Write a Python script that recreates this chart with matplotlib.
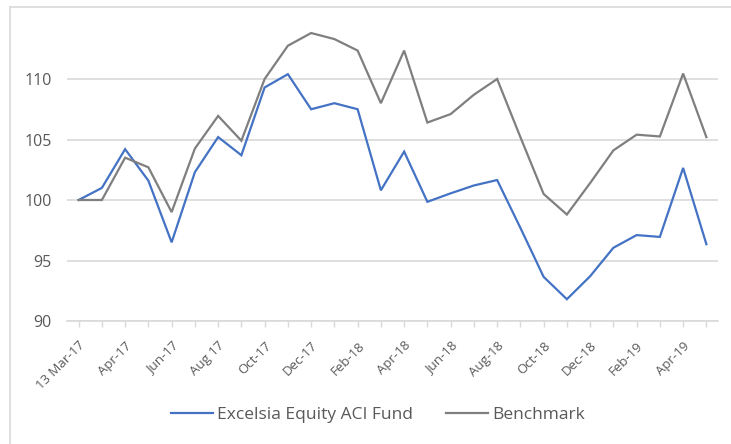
import matplotlib
matplotlib.use("Agg")
import matplotlib.pyplot as plt
from matplotlib.lines import Line2D

categories = ["13 Mar-17", "Mar-17", "Apr-17", "May-17", "Jun-17", "Jul-17", "Aug 17",
              "Sep-17", "Oct-17", "Nov-17", "Dec-17", "Jan-18", "Feb-18", "Mar-18",
              "Apr-18", "May-18", "Jun-18", "Jul-18", "Aug-18", "Sep-18", "Oct-18",
              "Nov-18", "Dec-18", "Jan-19", "Feb-19", "Mar-19", "Apr-19", "May-19"]
fund = [100.0, 101.0, 104.2, 101.6, 96.5, 102.3, 105.2, 103.7, 109.3, 110.4,
        107.5, 108.0, 107.5, 100.8, 104.0, 99.85, 100.55, 101.2, 101.65, 97.7,
        93.65, 91.8, 93.7, 96.05, 97.1, 96.95, 102.65, 96.35]
benchmark = [100.0, 100.0, 103.5, 102.7, 99.0, 104.25, 106.95, 104.9, 110.0, 112.75,
             113.8, 113.3, 112.35, 108.0, 112.35, 106.4, 107.1, 108.7, 110.0, 105.2,
             100.5, 98.8, 101.4, 104.1, 105.4, 105.25, 110.45, 105.2]
series_names = ["Excelsia Equity ACI Fund", "Benchmark"]
yticks = [90, 95, 100, 105, 110]

FONT = ["Open Sans", "DejaVu Sans"]
plt.rcParams["font.family"] = FONT
TXT = "#595959"
GRID = "#d9d9d9"
BLUE = "#4472c4"
GRAY = "#7f7f7f"

fig = plt.figure(figsize=(7.31, 4.44), dpi=100)
ax = fig.add_axes([67/731, 1 - 321/444, (718-67)/731, (321-18.5)/444])

x = list(range(len(categories)))
ax.plot(x, fund, color=BLUE, lw=1.6, label=series_names[0], solid_joinstyle="miter")
ax.plot(x, benchmark, color=GRAY, lw=1.6, label=series_names[1], solid_joinstyle="miter")

ax.set_xlim(-0.5, len(categories) - 0.5)
ax.set_ylim(90, 115)
ax.set_yticks(yticks)
ax.set_yticklabels([str(v) for v in yticks], color=TXT, fontsize=11.5)
ax.yaxis.grid(True, color=GRID, lw=1.2)
ax.set_axisbelow(True)
ax.tick_params(axis="y", length=0, pad=11)

ax.set_xticks(x)
labels = [c if i % 2 == 0 else "" for i, c in enumerate(categories)]
ax.set_xticklabels(labels, rotation=45, ha="right", rotation_mode="anchor",
                   color=TXT, fontsize=9.5)
ax.tick_params(axis="x", length=4, color=GRID, width=1, pad=9)

for s in ["top", "right", "left"]:
    ax.spines[s].set_visible(False)
ax.spines["bottom"].set_color(GRID)
ax.spines["bottom"].set_linewidth(1.2)

handles = [Line2D([], [], color=BLUE, lw=1.6), Line2D([], [], color=GRAY, lw=1.6)]
fig.legend(handles, series_names, loc="center", bbox_to_anchor=(378/731, 1 - 415/444),
           ncol=2, frameon=False, fontsize=12.5, labelcolor=TXT, handlelength=2.4,
           handletextpad=0.25, columnspacing=1.9)

# chart frame
fig.add_artist(Line2D([10/731, 10/731], [0, 1 - 7.3/444], transform=fig.transFigure,
                      color=GRID, lw=1.2))
fig.add_artist(Line2D([10/731, 1], [1 - 7.3/444, 1 - 7.3/444], transform=fig.transFigure,
                      color=GRID, lw=1.2))

fig.savefig("out.png", dpi=100, facecolor="white")
